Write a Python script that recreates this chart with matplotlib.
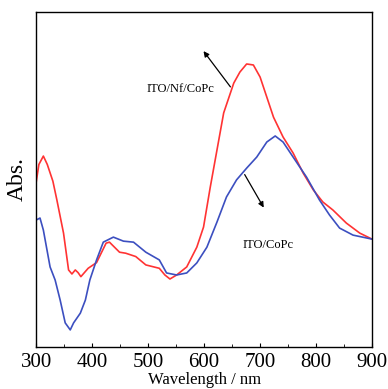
import matplotlib.pyplot as plt

# Absorbance spectra (arbitrary units)
wl_nf = [300, 305, 313, 320, 330, 337, 349, 358, 364, 370, 375, 380, 393, 408, 425, 431,
         449, 460, 478, 496, 520, 530, 539, 551, 569, 587, 599, 611, 623, 635, 653, 664,
         676, 688, 700, 712, 724, 741, 759, 777, 795, 812, 830, 854, 878, 900]
abs_nf = [0.490, 0.545, 0.570, 0.545, 0.495, 0.440, 0.340, 0.230, 0.218, 0.230, 0.222, 0.210,
          0.235, 0.252, 0.310, 0.313, 0.283, 0.280, 0.270, 0.245, 0.235, 0.215, 0.203, 0.215,
          0.239, 0.298, 0.358, 0.477, 0.588, 0.699, 0.788, 0.821, 0.845, 0.842, 0.806, 0.746,
          0.686, 0.627, 0.579, 0.519, 0.469, 0.433, 0.409, 0.370, 0.340, 0.322]

wl_bare = [300, 307, 313, 325, 334, 343, 352, 361, 367, 379, 388, 396, 408, 420, 438, 456,
           474, 496, 520, 533, 551, 569, 587, 605, 623, 640, 658, 676, 694, 712, 727, 741,
           759, 783, 806, 824, 842, 866, 900]
abs_bare = [0.379, 0.385, 0.349, 0.239, 0.200, 0.140, 0.072, 0.051, 0.072, 0.101, 0.140, 0.200,
            0.260, 0.313, 0.328, 0.316, 0.313, 0.283, 0.260, 0.221, 0.215, 0.221, 0.251, 0.298,
            0.373, 0.448, 0.499, 0.534, 0.567, 0.612, 0.630, 0.612, 0.567, 0.507, 0.439, 0.394,
            0.355, 0.334, 0.322]

plt.rcParams["font.family"] = "Liberation Serif"

fig = plt.figure(figsize=(3.88, 3.89), dpi=100)
ax = fig.add_axes([0.093, 0.108, 0.866, 0.861])

ax.plot(wl_nf, abs_nf, color="#ff3333", lw=1.2)
ax.plot(wl_bare, abs_bare, color="#3c4fc0", lw=1.2)

ax.annotate("", xy=(596, 0.890), xytext=(650, 0.770),
            arrowprops=dict(arrowstyle="-|>", color="black", lw=0.9, mutation_scale=8))
ax.text(557, 0.770, "ITO/Nf/CoPc", fontsize=9, ha="center", va="center")
ax.annotate("", xy=(709, 0.409), xytext=(670, 0.522),
            arrowprops=dict(arrowstyle="-|>", color="black", lw=0.9, mutation_scale=8))
ax.text(714, 0.304, "ITO/CoPc", fontsize=9, ha="center", va="center")

ax.set_xlim(300, 900)
ax.set_ylim(0, 1)
ax.set_xticks(range(300, 901, 100))
ax.set_xticks(range(350, 900, 100), minor=True)
ax.set_yticks([])
ax.tick_params(axis="x", which="both", direction="in", labelsize=15, pad=4, top=False)
ax.tick_params(axis="x", which="major", length=3)
ax.tick_params(axis="x", which="minor", length=2)
for s in ax.spines.values():
    s.set_linewidth(1.0)

ax.set_xlabel("Wavelength / nm", fontsize=12, labelpad=0)
ax.set_ylabel("Abs.", fontsize=17, labelpad=6)

fig.savefig("out.png", dpi=100)
